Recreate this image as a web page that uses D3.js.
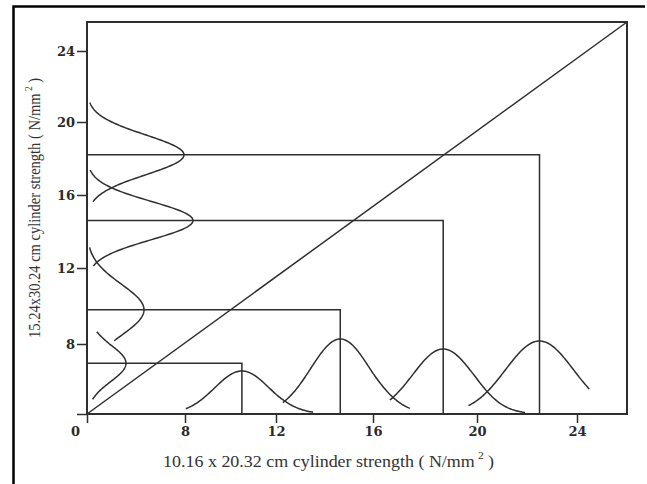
<!DOCTYPE html>
<html>
<head>
<meta charset="utf-8">
<script src="https://cdn.jsdelivr.net/npm/d3@7"></script>
<style>
  body { margin: 0; background: #fff; }
  svg { display: block; }
</style>
</head>
<body>
<svg id="chart" width="647" height="484"></svg>
<script>
// Axis ticks (both axes are broken: the origin value 4 is labelled "0")
const xTickValues = [4, 8, 12, 16, 20, 24];
const xTickLabels = ["0", "8", "12", "16", "20", "24"];
const yTickValues = [4, 8, 12, 16, 20, 24];
const yTickLabels = ["", "8", "12", "16", "20", "24"];

// Mean cylinder strengths of the four mixes (N/mm²)
const smallCylMean = [10.5, 14.65, 18.7, 22.5];  // 10.16 x 20.32 cm
const largeCylMean = [6.9, 9.8, 14.6, 18.2];     // 15.24 x 30.24 cm

// Strength distributions of the 10.16 x 20.32 cm cylinders (drawn on the x axis)
const smallCylSd   = [1.2, 1.22, 1.17, 1.36];
const smallCylPeak = [0.43, 0.75, 0.65, 0.73];
const smallCylFrom = [8.04, 12.28, 16.65, 19.67];
const smallCylTo   = [13.53, 17.42, 21.92, 24.49];

// Strength distributions of the 15.24 x 30.24 cm cylinders (drawn on the y axis)
const largeCylSd   = [1.05, 1.34, 1.05, 1.09];
const largeCylPeak = [0.39, 0.57, 1.06, 0.97];
const largeCylFrom = [4.84, 8.17, 12.11, 15.63];
const largeCylTo   = [8.65, 13.13, 17.37, 21.09];

const ink = "#2e2e2e";
const svg = d3.select("#chart");

svg.append("rect").attr("width", 647).attr("height", 484).attr("fill", "#fff");

// page border (left and top edges)
svg.append("path")
  .attr("d", "M13.5,484V6.5H645")
  .attr("fill", "none")
  .attr("stroke", "#000")
  .attr("stroke-width", 2.5);

const x = d3.scaleLinear()
  .domain([4, 8, 12, 16, 20, 24, 26])
  .range([87, 185, 276, 373, 477, 577, 627]);
const y = d3.scaleLinear()
  .domain([4, 8, 12, 16, 20, 24, 25.6])
  .range([414, 344, 268, 195, 122, 51, 22]);
const freq = d3.scaleLinear().domain([0, 1]).range([0, 100]);

const x0 = x.domain()[0], x1 = x.domain()[x.domain().length - 1];
const y0 = y.domain()[0], y1 = y.domain()[y.domain().length - 1];

// axes
const xAxis = svg.append("g")
  .attr("transform", `translate(0,${y(y0)})`)
  .call(d3.axisBottom(x).tickValues(xTickValues)
    .tickFormat((d, i) => xTickLabels[i]).tickSize(9).tickPadding(4));
const yAxis = svg.append("g")
  .attr("transform", `translate(${x(x0)},0)`)
  .call(d3.axisLeft(y).tickValues(yTickValues)
    .tickFormat((d, i) => yTickLabels[i]).tickSize(10).tickPadding(2));

[xAxis, yAxis].forEach(g => {
  g.select(".domain").remove();
  g.selectAll(".tick line").attr("stroke", ink).attr("stroke-width", 1.5);
  g.selectAll(".tick text")
    .attr("fill", "#2a2a2a")
    .attr("font-family", "'DejaVu Serif', 'Liberation Serif', serif")
    .attr("font-weight", "bold")
    .attr("font-size", 13);
});
// origin label sits left of the corner
xAxis.selectAll(".tick text").filter(d => d === x0).attr("dx", -12);

// plot frame
svg.append("rect")
  .attr("x", x(x0)).attr("y", y(y1))
  .attr("width", x(x1) - x(x0)).attr("height", y(y0) - y(y1))
  .attr("fill", "none").attr("stroke", ink).attr("stroke-width", 2);

// equality line
svg.append("line")
  .attr("x1", x(x0)).attr("y1", y(y0))
  .attr("x2", x(x1)).attr("y2", y(y1))
  .attr("stroke", ink).attr("stroke-width", 1.5);

// mean connectors
const pairs = d3.range(smallCylMean.length);
svg.append("g").selectAll("path").data(pairs).join("path")
  .attr("d", i => `M${x(x0)},${y(largeCylMean[i])}H${x(smallCylMean[i])}V${y(y0)}`)
  .attr("fill", "none").attr("stroke", ink).attr("stroke-width", 1.5);

// normal curves
const gauss = (t, m, s, p) => p * Math.exp(-0.5 * ((t - m) / s) ** 2);
const samples = (a, b) => d3.range(0, 121).map(k => a + (b - a) * k / 120);

const bottomLine = i => d3.line()
  .x(t => x(t))
  .y(t => y(y0) - freq(gauss(t, smallCylMean[i], smallCylSd[i], smallCylPeak[i])));
svg.append("g").selectAll("path").data(pairs).join("path")
  .attr("d", i => bottomLine(i)(samples(smallCylFrom[i], smallCylTo[i])))
  .attr("fill", "none").attr("stroke", ink).attr("stroke-width", 1.5);

const leftLine = i => d3.line()
  .x(t => x(x0) + freq(gauss(t, largeCylMean[i], largeCylSd[i], largeCylPeak[i])))
  .y(t => y(t));
svg.append("g").selectAll("path").data(pairs).join("path")
  .attr("d", i => leftLine(i)(samples(largeCylFrom[i], largeCylTo[i])))
  .attr("fill", "none").attr("stroke", ink).attr("stroke-width", 1.5);

// axis titles
const serif = "'Liberation Serif', 'DejaVu Serif', serif";
const xt = svg.append("text")
  .attr("x", 163).attr("y", 467)
  .attr("font-family", serif).attr("font-size", 17).attr("fill", "#333")
  .attr("textLength", 331).attr("lengthAdjust", "spacingAndGlyphs");
xt.append("tspan").text("10.16 x 20.32 cm cylinder strength ( N/mm");
xt.append("tspan").attr("font-size", 11).attr("dx", 3).attr("dy", -8).text("2");
xt.append("tspan").attr("dx", 4).attr("dy", 8).text(")");

const yt = svg.append("text")
  .attr("transform", "translate(40,338) rotate(-90)")
  .attr("font-family", serif).attr("font-size", 17).attr("fill", "#333")
  .attr("textLength", 260).attr("lengthAdjust", "spacingAndGlyphs");
yt.append("tspan").text("15.24x30.24 cm cylinder strength ( N/mm");
yt.append("tspan").attr("font-size", 11).attr("dx", 3).attr("dy", -8).text("2");
yt.append("tspan").attr("dx", 4).attr("dy", 8).text(")");
</script>
</body>
</html>
